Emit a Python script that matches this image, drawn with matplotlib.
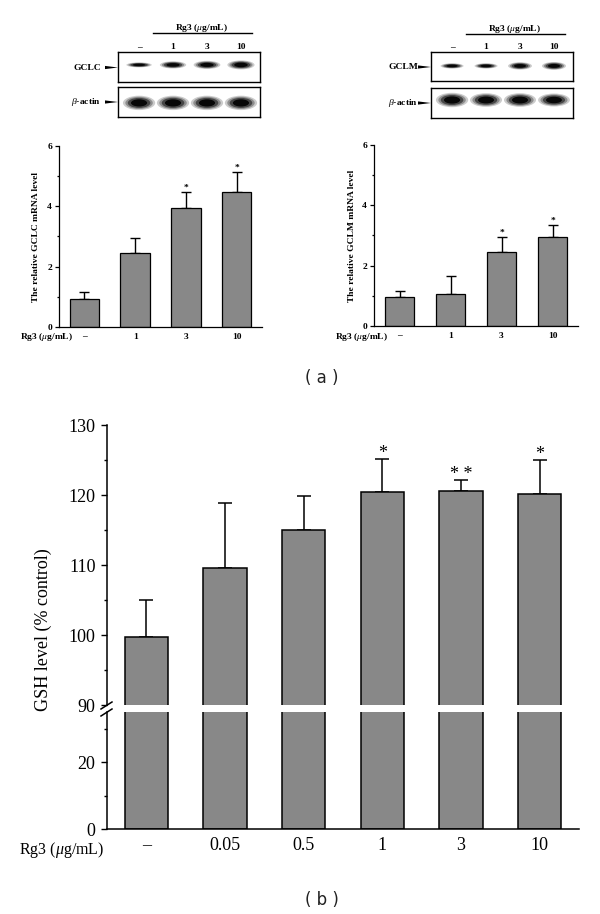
import numpy as np
import matplotlib
matplotlib.use('Agg')
import matplotlib.pyplot as plt
from matplotlib.patches import Ellipse, Polygon
from matplotlib.lines import Line2D
from matplotlib.ticker import MultipleLocator

plt.rcParams['font.family'] = 'serif'
plt.rcParams['font.serif'] = ['Liberation Serif', 'DejaVu Serif']
plt.rcParams['mathtext.fontset'] = 'custom'
plt.rcParams['mathtext.rm'] = 'Liberation Serif'
plt.rcParams['mathtext.it'] = 'Liberation Serif:italic'
plt.rcParams['mathtext.bf'] = 'Liberation Serif:bold'

# ---- data ----
# (a) western blots: lanes and relative band strength
blot_lanes = ['–', '1', '3', '10']
gclc_band = [0.55, 0.8, 0.9, 1.0]
gclc_actin = [1.0, 1.0, 1.0, 1.0]
gclm_band = [0.6, 0.6, 0.85, 0.9]
gclm_actin = [1.0, 0.95, 0.95, 0.9]

# (a) mRNA bar charts
mrna_labels = ['–', '1', '3', '10']
gclc_mean = [0.92, 2.44, 3.93, 4.47]
gclc_err = [0.23, 0.50, 0.54, 0.68]
gclc_sig = ['', '', '*', '*']
gclm_mean = [0.96, 1.06, 2.44, 2.96]
gclm_err = [0.20, 0.60, 0.52, 0.40]
gclm_sig = ['', '', '*', '*']

# (b) GSH level
gsh_labels = ['–', '0.05', '0.5', '1', '3', '10']
gsh_mean = [99.7, 109.6, 115.0, 120.4, 120.6, 120.2]
gsh_err = [5.3, 9.3, 4.9, 4.7, 1.5, 4.8]
gsh_sig = ['', '', '', '*', '* *', '*']

W, H = 600, 914
fig = plt.figure(figsize=(W / 100, H / 100), dpi=100)
BAR = '#888888'
SMALL = 6.8


def px_axes(x0, y0, x1, y1):
    return fig.add_axes([x0 / W, 1 - y1 / H, (x1 - x0) / W, (y1 - y0) / H])


def fx(x):
    return x / W


def fy(y):
    return 1 - y / H


# ---------- western blots ----------
def draw_blot(box, strength, yc, bw, bh):
    ax = px_axes(*box)
    ax.set_xlim(-0.62, 3.56)
    ax.set_ylim(0, 1)
    ax.set_xticks([])
    ax.set_yticks([])
    for s in ax.spines.values():
        s.set_linewidth(1.0)
    for i, v in enumerate(strength):
        for sc, a in [(1.0, 0.2), (0.85, 0.3), (0.7, 0.5), (0.5, 0.9)]:
            ax.add_patch(Ellipse((i, yc), bw * sc * (0.85 + 0.15 * v), bh * v * sc,
                                 color='black', alpha=a, lw=0))
    return ax


def blot_label(text, xr, y, box_left):
    fig.text(fx(xr), fy(y), text, ha='right', va='center', fontsize=SMALL, fontweight='bold')
    fig.add_artist(Polygon([(fx(box_left - 13), fy(y - 1.6)), (fx(box_left - 13), fy(y + 1.6)),
                            (fx(box_left), fy(y))], closed=True, color='black', lw=0))


for (main, actin, main_name, bands, actin_bands, yc_main, yc_act, bw_main, lab_r) in [
        ((118, 52, 260, 82), (118, 87, 260, 117), 'GCLC', gclc_band, gclc_actin, 0.57, 0.47, 0.8, 101),
        ((431, 52, 573, 81), (431, 88, 573, 118), 'GCLM', gclm_band, gclm_actin, 0.52, 0.6, 0.72, 418)]:
    axb = draw_blot(main, bands, yc_main, bw_main, 0.3)
    draw_blot(actin, actin_bands, yc_act, 0.95, 0.48)
    tr = axb.get_xaxis_transform()
    for i, lab in enumerate(blot_lanes):
        axb.text(i, 1.17, lab, ha='center', va='center', fontsize=SMALL, fontweight='bold',
                 transform=tr)
    axb.plot([0.42, 3.32], [1.63, 1.63], color='black', lw=1.0, clip_on=False, transform=tr)
    axb.text(1.85, 1.8, 'Rg3 ($\\mathit{\\mu}$g/mL)', ha='center', va='center', fontsize=SMALL,
             fontweight='bold', transform=tr)
    mid_main = (main[1] + main[3]) / 2 + 0.5
    mid_act = (actin[1] + actin[3]) / 2
    blot_label(main_name, lab_r, mid_main, main[0])
    blot_label('$\\mathit{\\beta}$-actin', lab_r, mid_act, actin[0])


# ---------- (a) mRNA bar charts ----------
def mrna_chart(box, mean, err, sig, ylabel, label_x, rg3_x):
    ax = px_axes(*box)
    x = np.arange(len(mean))
    ax.bar(x, mean, width=0.58, color=BAR, edgecolor='black', linewidth=0.9, zorder=2)
    ax.errorbar(x, mean, yerr=[np.zeros(len(err)), err], fmt='none', ecolor='black',
                elinewidth=1.0, capsize=3.5, capthick=1.0, zorder=1)
    for xi, m, e, s in zip(x, mean, err, sig):
        if s:
            ax.annotate(s, (xi, m + e), xytext=(0, 0), textcoords='offset points',
                        ha='center', va='bottom', fontsize=SMALL, fontweight='bold')
    ax.set_xlim(-0.5, 3.5)
    ax.set_ylim(0, 6)
    ax.yaxis.set_major_locator(MultipleLocator(2))
    ax.yaxis.set_minor_locator(MultipleLocator(1))
    ax.tick_params(axis='y', which='major', length=3, width=0.9, pad=2, labelsize=SMALL)
    ax.tick_params(axis='y', which='minor', length=1.8, width=0.9)
    for t in ax.get_yticklabels():
        t.set_fontweight('bold')
    ax.set_xticks(x)
    ax.set_xticklabels(mrna_labels, fontsize=SMALL, fontweight='bold')
    ax.tick_params(axis='x', length=0, pad=4)
    ax.spines['top'].set_visible(False)
    ax.spines['right'].set_visible(False)
    ax.spines['left'].set_linewidth(0.9)
    ax.spines['bottom'].set_linewidth(0.9)
    fig.text(fx(label_x), fy((box[1] + box[3]) / 2), ylabel, rotation=90, ha='center',
             va='center', fontsize=SMALL, fontweight='bold')
    fig.text(fx(rg3_x), fy(337), 'Rg3 ($\\mathit{\\mu}$g/mL)', ha='left', va='center',
             fontsize=SMALL, fontweight='bold')
    return ax


mrna_chart((59, 146, 262, 327), gclc_mean, gclc_err, gclc_sig,
           'The relative GCLC mRNA level', 36, 20)
mrna_chart((374, 145, 578, 326), gclm_mean, gclm_err, gclm_sig,
           'The relative GCLM mRNA level', 352, 335)

fig.text(fx(322), fy(378), '( a )', ha='center', va='center', fontsize=12,
         family='DejaVu Sans', color='#222222')

# ---------- (b) GSH broken-axis bar chart ----------
ax_hi = px_axes(107, 425, 579, 705)
ax_lo = px_axes(107, 712, 579, 829)
xg = np.arange(len(gsh_mean))
for ax in (ax_hi, ax_lo):
    ax.bar(xg, gsh_mean, width=0.55, color=BAR, edgecolor='black', linewidth=1.1, zorder=2)
    ax.set_xlim(-0.5, 5.5)
    ax.spines['top'].set_visible(False)
    ax.spines['right'].set_visible(False)
    ax.spines['left'].set_linewidth(1.1)
    ax.spines['bottom'].set_linewidth(1.1)
    ax.tick_params(axis='y', which='major', length=4.3, width=1.0, pad=4, labelsize=13)
    ax.tick_params(axis='y', which='minor', length=2.2, width=1.0)

ax_hi.errorbar(xg, gsh_mean, yerr=[np.zeros(len(gsh_err)), gsh_err], fmt='none',
               ecolor='black', elinewidth=1.1, capsize=4.7, capthick=1.1, zorder=1)
for xi, m, e, s in zip(xg, gsh_mean, gsh_err, gsh_sig):
    if s:
        ax_hi.annotate(s, (xi, m + e), xytext=(0, -2), textcoords='offset points',
                       ha='center', va='bottom', fontsize=13)

ax_hi.set_ylim(90, 130)
ax_hi.yaxis.set_major_locator(MultipleLocator(10))
ax_hi.yaxis.set_minor_locator(MultipleLocator(5))
ax_hi.spines['bottom'].set_visible(False)
ax_hi.set_xticks([])

ax_lo.set_ylim(0, 35)
ax_lo.yaxis.set_major_locator(MultipleLocator(20))
ax_lo.yaxis.set_minor_locator(MultipleLocator(10))
ax_lo.set_xticks(xg)
ax_lo.set_xticklabels(gsh_labels, fontsize=13)
ax_lo.tick_params(axis='x', length=0, pad=6)

# axis break marks
for y0 in (709, 716):
    fig.add_artist(Line2D([fx(101), fx(112)], [fy(y0), fy(y0 - 7)], color='black', lw=1.1))

fig.text(fx(43), fy(630), 'GSH level (% control)', rotation=90, ha='center', va='center',
         fontsize=13)
fig.text(fx(104), fy(850), 'Rg3 ($\\mathit{\\mu}$g/mL)', ha='right', va='center', fontsize=11.5)

fig.text(fx(322), fy(900), '( b )', ha='center', va='center', fontsize=12,
         family='DejaVu Sans', color='#222222')

fig.savefig('out.png', dpi=100)
